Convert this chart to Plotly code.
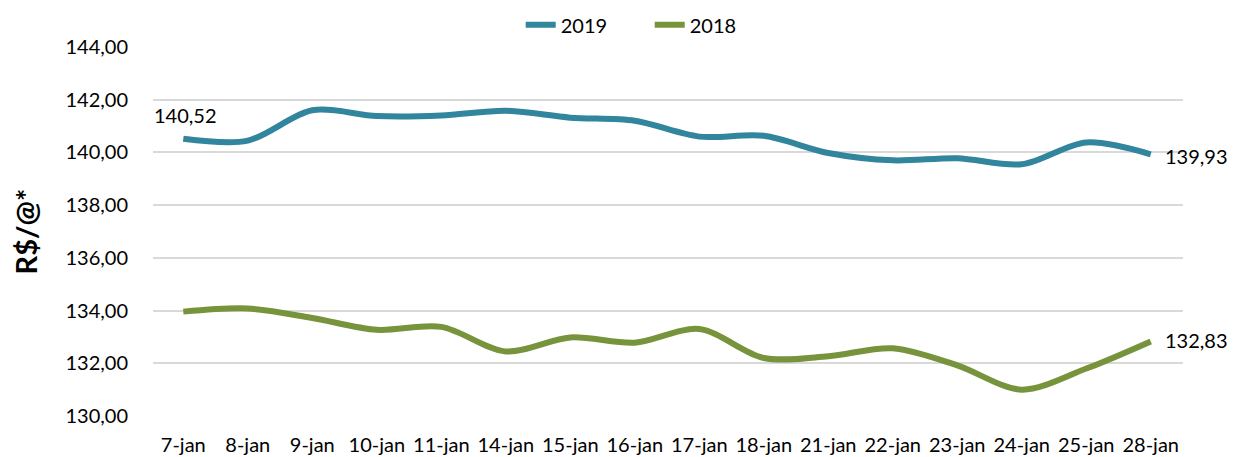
import plotly.graph_objects as go

dates = ["7-jan", "8-jan", "9-jan", "10-jan", "11-jan", "14-jan", "15-jan", "16-jan",
         "17-jan", "18-jan", "21-jan", "22-jan", "23-jan", "24-jan", "25-jan", "28-jan"]
y2019 = [140.52, 140.45, 141.60, 141.38, 141.40, 141.58, 141.32, 141.20,
         140.60, 140.63, 139.98, 139.70, 139.78, 139.55, 140.38, 139.93]
y2018 = [133.96, 134.08, 133.72, 133.27, 133.38, 132.45, 132.98, 132.78,
         133.30, 132.20, 132.27, 132.57, 131.92, 131.00, 131.80, 132.83]
y_ticks = [130, 132, 134, 136, 138, 140, 142, 144]

FONT = "Lato"
C2019 = "#31859C"
C2018 = "#77933C"


def fmt(v):
    return f"{v:.2f}".replace(".", ",")


fig = go.Figure()
fig.add_trace(go.Scatter(
    x=dates, y=y2019, name="2019", mode="lines",
    line=dict(color=C2019, width=6, shape="spline", smoothing=0.9),
))
fig.add_trace(go.Scatter(
    x=dates, y=y2018, name="2018", mode="lines",
    line=dict(color=C2018, width=6, shape="spline", smoothing=0.9),
))

annotations = [
    dict(x=dates[0], y=y2019[0], text=fmt(y2019[0]), showarrow=False,
         xanchor="center", yanchor="bottom", yshift=10, xshift=2),
    dict(x=dates[-1], y=y2019[-1], text=fmt(y2019[-1]), showarrow=False,
         xanchor="left", yanchor="middle", xshift=12, yshift=-2),
    dict(x=dates[-1], y=y2018[-1], text=fmt(y2018[-1]), showarrow=False,
         xanchor="left", yanchor="middle", xshift=12, yshift=1),
]
for a in annotations:
    a["font"] = dict(family=FONT, size=20, color="#000000")

# page body has an 8px default margin; compensate in size and margins
fig.update_layout(
    width=1227, height=449,
    margin=dict(l=145, r=52, t=39, b=41, autoexpand=False),
    paper_bgcolor="white", plot_bgcolor="white",
    separators=",.",
    font=dict(family=FONT, size=20, color="#000000"),
    showlegend=True,
    legend=dict(orientation="h", x=0.357, xanchor="left", y=1.06, yanchor="middle",
                entrywidth=84, entrywidthmode="pixels",
                font=dict(family=FONT, size=20), traceorder="normal"),
    annotations=annotations,
    xaxis=dict(type="category", range=[-0.47, 15.5], autorange=False,
               showgrid=False, zeroline=False, showline=False,
               automargin=False, ticks="outside", ticklen=11,
               tickcolor="rgba(0,0,0,0)", tickfont=dict(family=FONT, size=20),
               tickangle=0),
    yaxis=dict(range=[130, 144], autorange=False, tickvals=y_ticks, tickformat=".2f",
               showgrid=True, gridcolor="#D9D9D9", gridwidth=1.5,
               zeroline=False, showline=False, automargin=False,
               ticks="outside", ticklen=20, tickcolor="rgba(0,0,0,0)",
               tickfont=dict(family=FONT, size=20),
               title=dict(text="<b>R$/@*</b>", font=dict(family=FONT, size=29), standoff=22)),
)

fig.write_html("out.html")
